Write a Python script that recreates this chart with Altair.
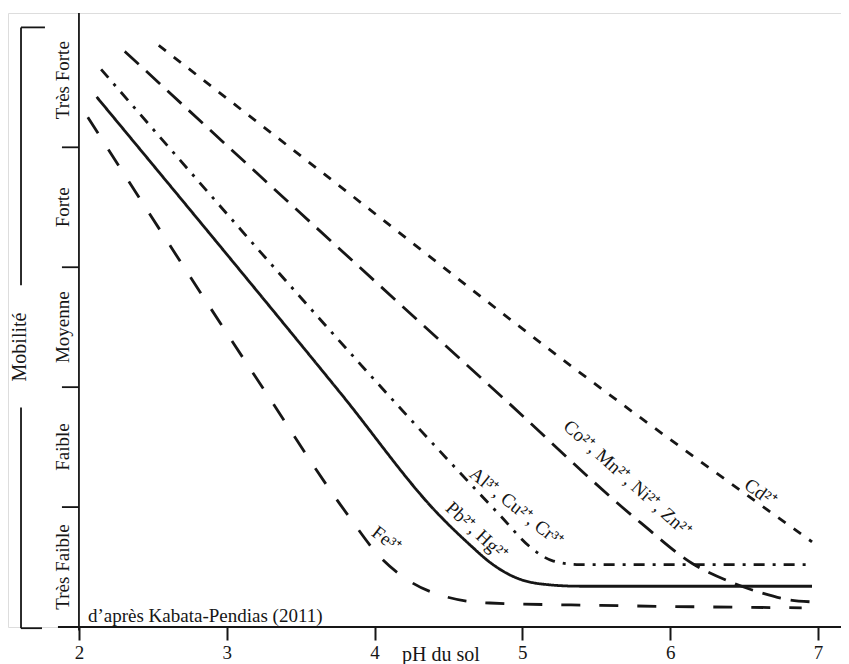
import altair as alt
import pandas as pd

# ---- data (pH of the soil, mobility in class units: 0 = bottom of "Très Faible") ----
cd_ph = [2.54, 3.75, 5.38, 6.96]
cd_mob = [4.85, 3.69, 2.13, 0.71]
co_ph = [2.31, 3.50, 4.87, 5.80, 6.15, 6.42, 6.63, 6.79, 6.95]
co_mob = [4.80, 3.45, 1.91, 0.87, 0.53, 0.37, 0.28, 0.23, 0.21]
al_ph = [2.15, 4.56, 4.85, 5.05, 5.21, 5.39, 6.96]
al_mob = [4.65, 1.31, 0.93, 0.67, 0.55, 0.52, 0.52]
pb_ph = [2.12, 3.77, 4.44, 4.65, 4.78, 4.94, 5.12, 5.39, 6.96]
pb_mob = [4.42, 1.95, 0.93, 0.68, 0.54, 0.42, 0.36, 0.34, 0.34]
fe_ph = [2.06, 3.23, 3.81, 4.04, 4.24, 4.49, 4.78, 5.53, 6.89]
fe_mob = [4.25, 2.02, 0.95, 0.58, 0.38, 0.25, 0.20, 0.18, 0.16]

series_names = ["Cd", "Co", "Al", "Pb", "Fe"]
series_labels = ["Cd²⁺", "Co²⁺, Mn²⁺, Ni²⁺, Zn²⁺", "Al³⁺, Cu²⁺, Cr³⁺", "Pb²⁺, Hg²⁺", "Fe³⁺"]
label_ph = [6.61, 5.71, 4.96, 4.69, 4.08]
label_mob = [1.12, 1.24, 1.00, 0.80, 0.73]
label_angle = [36, 42, 39, 43, 38]

classes = ["Très Faible", "Faible", "Moyenne", "Forte", "Très Forte"]
class_bounds = [0, 1, 2, 3, 4, 5.12]
ph_ticks = [2, 3, 4, 5, 6, 7]

source_note = "d’après Kabata-Pendias (2011)"
x_title = "pH du sol"
y_title = "Mobilité"

# ---- build tables ----
FONT = "Liberation Serif"
INK = "#161616"
XMIN, XMAX = 1.52, 7.156
YMAX = class_bounds[-1]

rows = []
for name, xs, ys in zip(series_names,
                        [cd_ph, co_ph, al_ph, pb_ph, fe_ph],
                        [cd_mob, co_mob, al_mob, pb_mob, fe_mob]):
    for a, b in zip(xs, ys):
        rows.append({"serie": name, "ph": a, "mob": b})
lines_df = pd.DataFrame(rows)

dashes = {"Cd": [9, 10], "Co": [19, 10], "Al": [11, 8, 3, 8], "Pb": [1, 0], "Fe": [19, 19]}

xs = alt.Scale(domain=[XMIN, XMAX], nice=False, zero=False)
ys = alt.Scale(domain=[0, YMAX], nice=False, zero=False)

# axis lines, class ticks, bracket
seg = [
    (1.858, XMAX + 0.06, 0, 0),   # x axis line
    (2.0, 2.0, -0.03, YMAX),      # y axis line
]
for b in class_bounds[1:-1]:
    seg.append((1.885, 2.0, b, b))
seg += [
    (1.608, 1.608, 2.85, 5.0),
    (1.608, 1.608, -0.01, 1.83),
    (1.608, 1.770, 5.0, 5.0),
    (1.608, 1.750, -0.01, -0.01),
]
seg_df = pd.DataFrame(seg, columns=["x", "x2", "y", "y2"])

rules = alt.Chart(seg_df).mark_rule(color=INK, strokeWidth=1.8).encode(
    x=alt.X("x:Q", scale=xs,
            axis=alt.Axis(values=ph_ticks, domain=False, grid=False, tickSize=13,
                          tickWidth=2, tickColor=INK, labelFont=FONT, labelFontSize=19,
                          labelColor=INK, labelPadding=3, title=None, format="d")),
    x2="x2:Q",
    y=alt.Y("y:Q", scale=ys, axis=None),
    y2="y2:Q",
)

layers = [rules]
for name in series_names:
    layers.append(
        alt.Chart(lines_df).transform_filter(alt.datum.serie == name)
        .mark_line(color=INK, strokeWidth=2.8, strokeDash=dashes[name],
                   interpolate="monotone")
        .encode(x=alt.X("ph:Q", scale=xs), y=alt.Y("mob:Q", scale=ys))
    )

lab_df = pd.DataFrame({"txt": series_labels, "ph": label_ph, "mob": label_mob,
                       "ang": label_angle})
layers.append(
    alt.Chart(lab_df).mark_text(font=FONT, fontSize=19, color=INK,
                                align="center", baseline="middle")
    .encode(x=alt.X("ph:Q", scale=xs), y=alt.Y("mob:Q", scale=ys),
            text="txt:N", angle=alt.Angle("ang:Q", scale=None))
)

cls_df = pd.DataFrame({
    "txt": classes,
    "mid": [(class_bounds[i] + class_bounds[i + 1]) / 2 for i in range(len(classes))],
    "ph": [1.892] * len(classes),
})
layers.append(
    alt.Chart(cls_df).mark_text(font=FONT, fontSize=19, color=INK, angle=270,
                                align="center", baseline="middle")
    .encode(x=alt.X("ph:Q", scale=xs), y=alt.Y("mid:Q", scale=ys), text="txt:N")
)

misc_df = pd.DataFrame({
    "txt": [y_title, x_title],
    "ph": [1.603, 4.449],
    "mob": [2.335, -0.234],
    "ang": [270, 0],
})
layers.append(
    alt.Chart(misc_df).mark_text(font=FONT, fontSize=20, color=INK,
                                 align="center", baseline="middle")
    .encode(x=alt.X("ph:Q", scale=xs), y=alt.Y("mob:Q", scale=ys),
            text="txt:N", angle=alt.Angle("ang:Q", scale=None))
)

note_df = pd.DataFrame({"txt": [source_note], "ph": [2.061], "mob": [0.044]})
layers.append(
    alt.Chart(note_df).mark_text(font=FONT, fontSize=19, color=INK,
                                 align="left", baseline="alphabetic")
    .encode(x=alt.X("ph:Q", scale=xs), y=alt.Y("mob:Q", scale=ys), text="txt:N")
)

chart = alt.layer(*layers).properties(
    width=833, height=614,
    autosize=alt.AutoSizeParams(type="none"),
    padding={"left": 0, "top": 5, "right": 0, "bottom": 37},
).configure_view(stroke=None).configure(background="white")

chart.save("out.html", embed_options={"renderer": "svg", "actions": False})
